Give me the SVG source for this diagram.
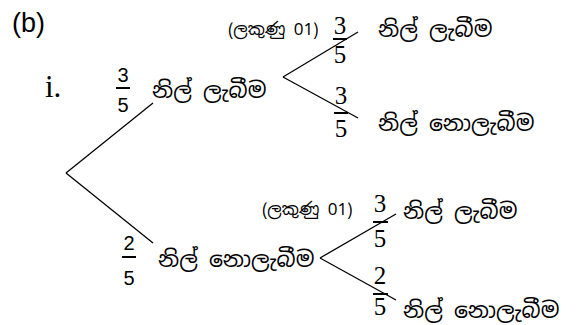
<svg xmlns="http://www.w3.org/2000/svg" width="583" height="325" viewBox="0 0 583 325">
<style>
.ln{stroke:#000;stroke-width:1.3;fill:none}
.bar{stroke:#000;stroke-width:2}
.si{font-family:"Noto Sans Sinhala","Noto Serif Sinhala","Iskoola Pota","Noto Sans",sans-serif;font-size:22px;fill:#000}
.mk{font-family:"Noto Sans Sinhala","Iskoola Pota","Liberation Serif",serif;font-size:17px;fill:#000}
.fs{font-family:"Liberation Sans","DejaVu Sans",sans-serif;font-size:20px;fill:#000;text-anchor:middle}
.fr{font-family:"Liberation Serif","DejaVu Serif",serif;font-size:25px;fill:#000;text-anchor:middle}
.lb{font-family:"Liberation Sans",sans-serif;font-size:27px;fill:#000}
.rn{font-family:"Liberation Serif",serif;font-size:31px;fill:#000}
</style>
<rect width="583" height="325" fill="#fff"/>
<g id="labels">
<text class="lb" x="12" y="32">(b)</text>
<text class="rn" x="45" y="97">i.</text>
</g>
<g id="connectors">
<line class="ln" x1="66" y1="173" x2="153" y2="103"/>
<line class="ln" x1="66" y1="173" x2="153" y2="243"/>
<line class="ln" x1="283" y1="77" x2="358" y2="32"/>
<line class="ln" x1="283" y1="77" x2="358" y2="118"/>
<line class="ln" x1="320" y1="258" x2="396" y2="214"/>
<line class="ln" x1="320" y1="258" x2="396" y2="300"/>
</g>
<g id="node-blue">
<text class="fs" x="123" y="82">3</text>
<line class="bar" x1="116" y1="88" x2="130" y2="88"/>
<text class="fs" x="123" y="112">5</text>
<text class="si" x="152" y="98">නිල් ලැබීම</text>
</g>
<g id="node-notblue">
<text class="fs" x="129" y="250">2</text>
<line class="bar" x1="122" y1="257" x2="136" y2="257"/>
<text class="fs" x="129" y="285">5</text>
<text class="si" x="158" y="267">නිල් නොලැබීම</text>
</g>
<g id="node-blue-blue">
<text class="mk" x="228" y="35">(ලකුණු 01)</text>
<text class="fr" x="340" y="34">3</text>
<line class="bar" x1="333" y1="39" x2="347" y2="39"/>
<text class="fr" x="340" y="63">5</text>
<text class="si" x="378" y="37">නිල් ලැබීම</text>
</g>
<g id="node-blue-notblue">
<text class="fr" x="341" y="104">3</text>
<line class="bar" x1="334" y1="113" x2="348" y2="113"/>
<text class="fr" x="341" y="137">5</text>
<text class="si" x="378" y="131">නිල් නොලැබීම</text>
</g>
<g id="node-notblue-blue">
<text class="mk" x="262" y="215">(ලකුණු 01)</text>
<text class="fr" x="380" y="212">3</text>
<line class="bar" x1="373" y1="222" x2="388" y2="222"/>
<text class="fr" x="380" y="247">5</text>
<text class="si" x="403" y="219">නිල් ලැබීම</text>
</g>
<g id="node-notblue-notblue">
<text class="fr" x="380" y="284">2</text>
<line class="bar" x1="373" y1="294" x2="388" y2="294"/>
<text class="fr" x="380" y="315">5</text>
<text class="si" x="403" y="318">නිල් නොලැබීම</text>
</g>
</svg>
